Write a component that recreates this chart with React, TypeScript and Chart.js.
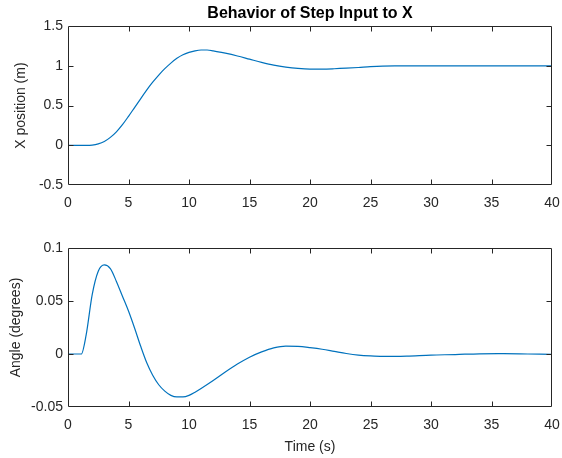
import React, { useEffect, useRef } from "react";
import { Chart, registerables } from "chart.js";

Chart.register(...registerables);

const timePos = [0, 1, 1.5, 2, 2.5, 3, 3.5, 4, 4.5, 5, 5.5, 6, 6.5, 7, 7.5, 8, 8.5, 9, 9.5, 10, 10.5, 11, 11.5, 12, 13, 14, 15, 16, 17, 18, 19, 20, 21, 22, 23, 24, 25, 26, 27, 28, 30, 32, 34, 36, 38, 40];
const posValues = [0, 0, 0, 0.003, 0.018, 0.048, 0.1, 0.17, 0.26, 0.365, 0.475, 0.585, 0.695, 0.795, 0.885, 0.965, 1.035, 1.095, 1.14, 1.17, 1.19, 1.2, 1.2, 1.19, 1.16, 1.125, 1.085, 1.045, 1.01, 0.985, 0.968, 0.96, 0.96, 0.964, 0.971, 0.98, 0.99, 0.997, 1.0, 1.0, 1.0, 1.0, 1.0, 1.0, 1.0, 1.0];

const timeAngle = [0, 1, 1.1, 1.5, 2, 2.5, 3, 3.5, 4, 4.5, 5, 5.5, 6, 6.5, 7, 7.5, 8, 8.5, 9, 9.5, 10, 10.5, 11, 12, 13, 14, 15, 16, 17, 18, 19, 20, 21, 22, 23, 24, 25, 26, 27, 28, 30, 32, 34, 36, 38, 40];
const angleValues = [0, 0, 0, 0.018, 0.056, 0.078, 0.084, 0.0805, 0.0685, 0.0545, 0.0405, 0.0245, 0.0075, -0.008, -0.02, -0.029, -0.035, -0.039, -0.0405, -0.0405, -0.039, -0.036, -0.0325, -0.025, -0.017, -0.0095, -0.003, 0.002, 0.0058, 0.0075, 0.0072, 0.006, 0.0045, 0.0025, 0.0005, -0.001, -0.0018, -0.0022, -0.0022, -0.002, -0.001, -0.0005, 0.0002, 0.0003, 0.0, -0.0003];

const xTicksMin = 0;
const xTicksMax = 40;
const xTickStep = 5;
const posTickMin = -0.5;
const posTickMax = 1.5;
const posTickStep = 0.5;
const angleTickMin = -0.05;
const angleTickMax = 0.1;
const angleTickStep = 0.05;

const titleText = "Behavior of Step Input to X";
const posLabel = "X position (m)";
const angleLabel = "Angle (degrees)";
const timeLabel = "Time (s)";

const FONT = "'Liberation Sans', Arial, Helvetica, sans-serif";
const AX = "#262626";
const LINE = "#0072BD";

const boxPlugin = {
  id: "matlabBox",
  afterDatasetsDraw(chart: any) {
    const { ctx, chartArea } = chart;
    const { left, right, top, bottom } = chartArea;
    const L = Math.round(left) + 0.5;
    const R = Math.round(right) - 0.5;
    const T = Math.round(top) + 0.5;
    const B = Math.round(bottom) - 0.5;
    ctx.save();
    ctx.strokeStyle = AX;
    ctx.lineWidth = 1;
    ctx.beginPath();
    ctx.rect(L, T, R - L, B - T);
    const tl = 5;
    const xs = chart.scales.x;
    xs.ticks.forEach((t: any) => {
      const px = Math.round(xs.getPixelForValue(t.value)) + 0.5;
      if (px <= L + 1 || px >= R - 1) return;
      ctx.moveTo(px, B);
      ctx.lineTo(px, B - tl);
      ctx.moveTo(px, T);
      ctx.lineTo(px, T + tl);
    });
    const ys = chart.scales.y;
    ys.ticks.forEach((t: any) => {
      const py = Math.round(ys.getPixelForValue(t.value)) + 0.5;
      if (py <= T + 1 || py >= B - 1) return;
      ctx.moveTo(L, py);
      ctx.lineTo(L + tl, py);
      ctx.moveTo(R, py);
      ctx.lineTo(R - tl, py);
    });
    ctx.stroke();
    ctx.restore();
  },
};

const fmt = (v: any) => String(Number(Number(v).toFixed(4)));

function makeConfig(
  xs: number[],
  ys: number[],
  yMin: number,
  yMax: number,
  yStep: number,
  yLabel: string,
  yLabelPad: number,
  opts: { title?: string; xLabel?: string; xHeight: number; padTop: number }
): any {
  return {
    type: "line",
    data: {
      datasets: [
        {
          data: xs.map((t, i) => ({ x: t, y: ys[i] })),
          borderColor: LINE,
          borderWidth: 1.2,
          pointRadius: 0,
          fill: false,
          cubicInterpolationMode: "monotone",
        },
      ],
    },
    options: {
      responsive: false,
      animation: false,
      events: [],
      layout: { padding: { top: opts.padTop, right: 10, left: 0, bottom: 0 } },
      plugins: {
        legend: { display: false },
        tooltip: { enabled: false },
        title: opts.title
          ? {
              display: true,
              text: opts.title,
              fullSize: false,
              color: "#000",
              font: { family: FONT, size: 16, weight: "bold" },
              padding: { top: 4, bottom: 3 },
            }
          : { display: false },
      },
      scales: {
        x: {
          type: "linear",
          min: xTicksMin,
          max: xTicksMax,
          grid: { display: false, drawTicks: false },
          border: { display: false },
          ticks: {
            stepSize: xTickStep,
            color: AX,
            padding: 10,
            maxRotation: 0,
            font: { family: FONT, size: 14 },
            callback: fmt,
          },
          title: opts.xLabel
            ? {
                display: true,
                text: opts.xLabel,
                color: AX,
                font: { family: FONT, size: 14 },
                padding: { top: 0, bottom: 2 },
              }
            : { display: false },
          afterFit: (s: any) => {
            s.height = opts.xHeight;
            s.paddingLeft = 0;
            s.paddingRight = 0;
          },
        },
        y: {
          type: "linear",
          min: yMin,
          max: yMax,
          grid: { display: false, drawTicks: false },
          border: { display: false },
          ticks: {
            stepSize: yStep,
            color: AX,
            padding: 5,
            font: { family: FONT, size: 14 },
            callback: fmt,
          },
          title: {
            display: true,
            text: yLabel,
            color: AX,
            font: { family: FONT, size: 14 },
            padding: { top: yLabelPad, bottom: 0 },
          },
          afterFit: (s: any) => {
            s.width = 68;
            s.paddingTop = 0;
            s.paddingBottom = 0;
          },
        },
      },
    },
    plugins: [boxPlugin],
  };
}

export default function App() {
  const topRef = useRef<HTMLCanvasElement | null>(null);
  const botRef = useRef<HTMLCanvasElement | null>(null);

  useEffect(() => {
    const c1 = new Chart(
      topRef.current as HTMLCanvasElement,
      makeConfig(timePos, posValues, posTickMin, posTickMax, posTickStep, posLabel, 13, {
        title: titleText,
        xHeight: 44,
        padTop: 0,
      })
    );
    const c2 = new Chart(
      botRef.current as HTMLCanvasElement,
      makeConfig(timeAngle, angleValues, angleTickMin, angleTickMax, angleTickStep, angleLabel, 7.5, {
        xLabel: timeLabel,
        xHeight: 51,
        padTop: 19,
      })
    );
    return () => {
      c1.destroy();
      c2.destroy();
    };
  }, []);

  return (
    <div style={{ position: "fixed", left: 0, top: 0, width: 562, height: 458, background: "#fff" }}>
      <canvas ref={topRef} width={562} height={229} style={{ position: "absolute", left: 0, top: 0 }} />
      <canvas ref={botRef} width={562} height={229} style={{ position: "absolute", left: 0, top: 229 }} />
    </div>
  );
}
